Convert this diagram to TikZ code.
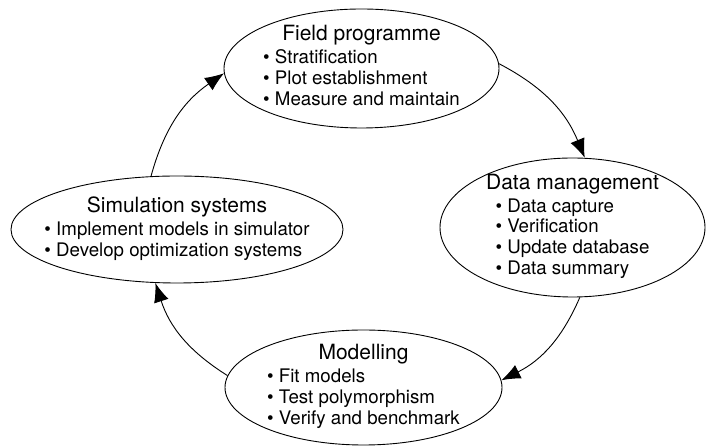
\documentclass[tikz,border=0pt]{standalone}
\usepackage{fontspec}
\setmainfont{TeX Gyre Heros}
\usepackage{tikz}
\usetikzlibrary{shapes.geometric,arrows.meta}

\renewcommand{\arraystretch}{0.913}
\newcommand{\stagetitle}[1]{{\fontsize{21}{23}\selectfont #1}}
\newcommand{\stageitems}[1]{\begin{tabular}[t]{@{}l@{}}#1\end{tabular}}

\begin{document}
\begin{tikzpicture}[x=1pt,y=1pt,
  stage node/.style={ellipse,draw,line width=0.9pt},
  stage text/.style={align=center,inner sep=0pt,font=\fontsize{18.7}{23}\selectfont},
  cycle arrow/.style={-{Latex[length=19pt,width=15pt]},line width=0.9pt,bend left=20}]
\useasboundingbox (0,0) rectangle (706,446);

\node at (361.5,377.5) [stage node,minimum width=275pt,minimum height=119pt] (F) {};
\node at (572.5,218.5) [stage node,minimum width=265pt,minimum height=139pt] (D) {};
\node at (363.5,58.5) [stage node,minimum width=277pt,minimum height=115pt] (M) {};
\node at (177,216.5) [stage node,minimum width=332pt,minimum height=107pt] (S) {};

\node at (F) [stage text] (Ft) {\stagetitle{Field programme}\\
  \stageitems{\textbullet\ Stratification\\ \textbullet\ Plot establishment\\ \textbullet\ Measure and maintain}};
\node at (D) [stage text] (Dt) {\stagetitle{Data management}\\
  \stageitems{\textbullet\ Data capture\\ \textbullet\ Verification\\ \textbullet\ Update database\\ \textbullet\ Data summary}};
\node at (M) [stage text] (Mt) {\stagetitle{Modelling}\\
  \stageitems{\textbullet\ Fit models\\ \textbullet\ Test polymorphism\\ \textbullet\ Verify and benchmark}};
\node at (S) [stage text] (St) {\stagetitle{Simulation systems}\\
  \stageitems{\textbullet\ Implement models in simulator\\ \textbullet\ Develop optimization systems}};

\draw [cycle arrow] (F.2) to (D.80);
\draw [cycle arrow] (D.-84) to (M.3);
\draw [cycle arrow] (M.175) to (S.248);
\draw [cycle arrow] (S.116) to (F.182);
\end{tikzpicture}
\end{document}
